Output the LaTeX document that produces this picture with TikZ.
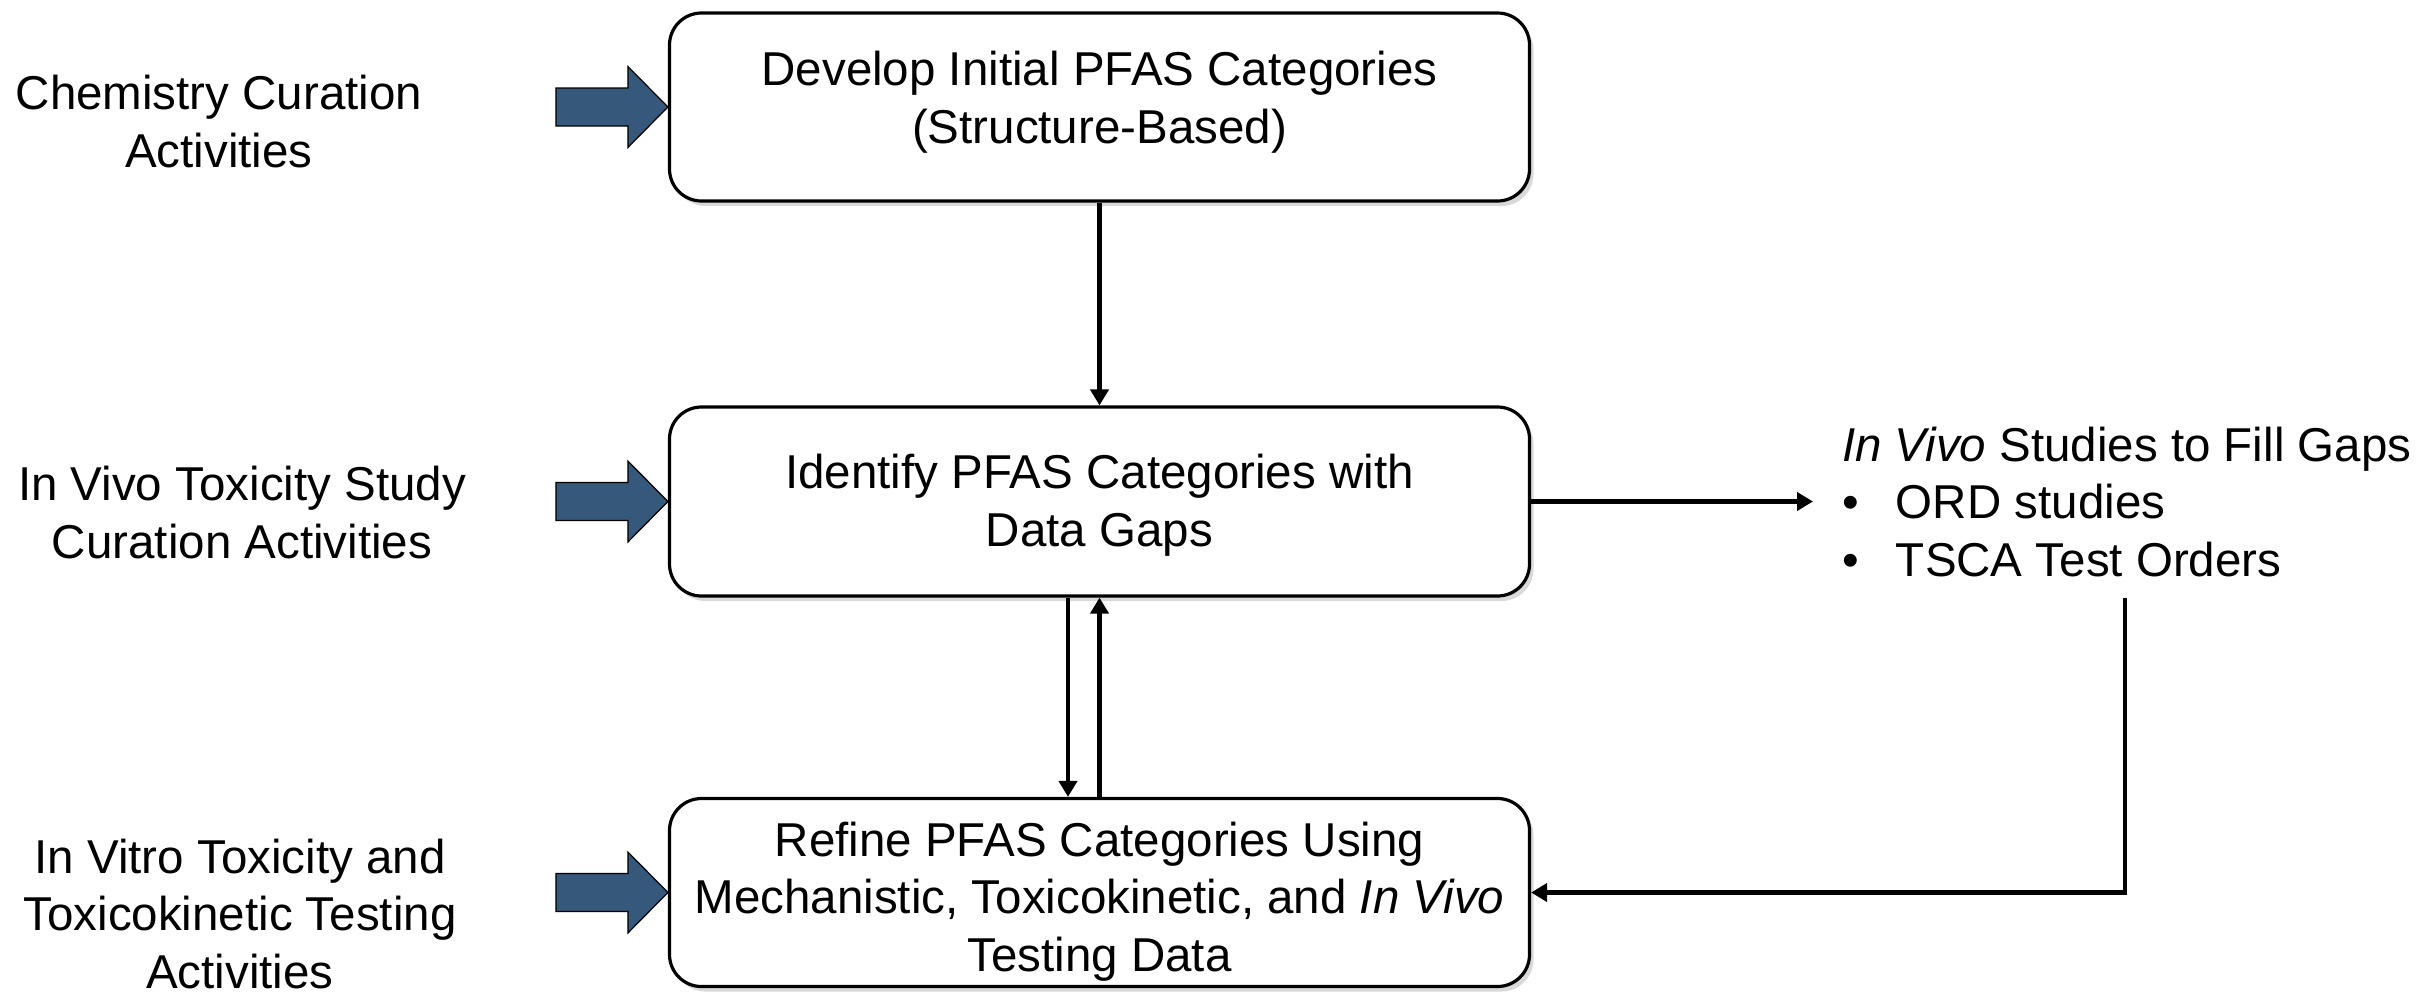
\documentclass[tikz,border=0pt]{standalone}
\usepackage{fontspec}
\setmainfont{Liberation Sans}
\usetikzlibrary{arrows.meta,shadows,calc}
\definecolor{arrowblue}{RGB}{54,88,122}
\begin{document}
\begin{tikzpicture}[x=0.5pt,y=-0.5pt,
  txt/.style={font=\fontsize{23.75pt}{28.75pt}\selectfont, align=center, inner sep=0pt, outer sep=0pt},
  stepbox/.style={draw=black, line width=1.6pt, rounded corners=16pt, fill=white,
    minimum width=430pt, minimum height=94pt,
    drop shadow={opacity=0.3, shadow xshift=2pt, shadow yshift=-2.5pt}},
  conn/.style={line width=2.1pt, -{Triangle[width=9pt,length=8pt]}},
  blockarrow/.style={fill=arrowblue, draw=black, line width=0.6pt, line join=miter}
]
\useasboundingbox (0,0) rectangle (2418,997);

% boxes
\node[stepbox] (b1) at (1099.5,107) {};
\node[stepbox, minimum height=94.5pt] (b2) at (1099.5,501.5) {};
\node[stepbox] (b3) at (1099.5,892.5) {};

% box texts
\node[txt] (t1) at (1099.5,102) {Develop Initial PFAS Categories\\(Structure-Based)};
\node[txt] (t2) at (1099.5,505) {Identify PFAS Categories with\\Data Gaps};
\node[txt] (t3) at (1099.5,901.5) {Refine PFAS Categories Using\\Mechanistic, Toxicokinetic, and \textit{In Vivo}\\Testing Data};

% left texts
\node[txt] (l1) at (219,121.5) {Chemistry Curation\\Activities};
\node[txt] (l2) at (242,512.4) {In Vivo Toxicity Study\\Curation Activities};
\node[txt] (l3) at (240,914) {In Vitro Toxicity and\\Toxicokinetic Testing\\Activities};

% right text
\node[txt, align=left, anchor=west] (rt) at (1842,502) {\textit{In Vivo} Studies to Fill Gaps\\\makebox[27pt][l]{•}ORD studies\\\makebox[27pt][l]{•}TSCA Test Orders};

% block arrows
\foreach \b in {b1,b2,b3}
  \filldraw[blockarrow] (\b.west) -- ++(-40,-40.5) -- ++(0,21.5) -- ++(-72,0) -- ++(0,38) -- ++(72,0) -- ++(0,21.5) -- cycle;

% connectors
\draw[conn] (b1.south) -- (b2.north);
\draw[conn] ($(b2.south)+(-31.5,0)$) -- ($(b3.north)+(-31.5,0)$);
\draw[conn] (b3.north) -- (b2.south);
\draw[conn] (b2.east) -- ($(rt.west |- b2.east)+(-29,0)$);
\coordinate (r1) at (2125,598);
\draw[conn] (r1) |- (b3.east);
\end{tikzpicture}
\end{document}
